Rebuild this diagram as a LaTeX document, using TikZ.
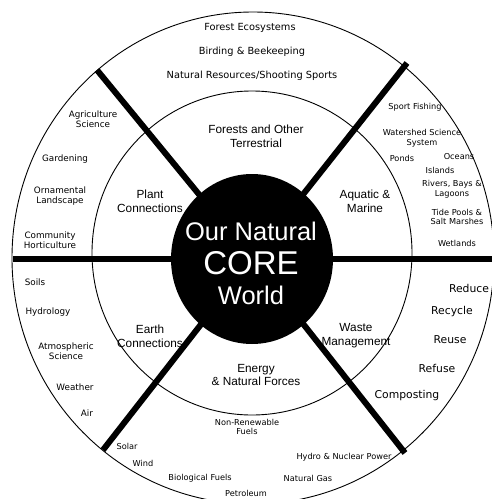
\documentclass[tikz,border=0pt]{standalone}
\usepackage{fontspec}
\setmainfont{Liberation Sans}
\newfontfamily\outerfont{DejaVu Sans}
\begin{document}
\begin{tikzpicture}[x=1pt,y=-1pt,
  ringline/.style={line width=0.9pt},
  divider/.style={line width=6pt},
  outertxt/.style={font=\outerfont\fontsize{8.8}{10.2}\selectfont, align=center, inner sep=0pt},
  sidetxt/.style={font=\outerfont\fontsize{8.2}{9.6}\selectfont, align=center, inner sep=0pt},
  toptxt/.style={font=\outerfont\fontsize{9.8}{11}\selectfont, align=center, inner sep=0pt},
  wastetxt/.style={font=\outerfont\fontsize{10.8}{12}\selectfont, align=center, inner sep=0pt},
  innertxt/.style={font=\fontsize{11.8}{13.8}\selectfont, align=center, inner sep=0pt},
  coretxt/.style={text=white, align=center, inner sep=0pt}]
\useasboundingbox (0,0) rectangle (492,499);
% geometry
\coordinate (c) at (252,259);
\coordinate (hl) at (13,259);
\coordinate (hr) at (495,259);
\coordinate (tl) at (97,70);
\coordinate (tr) at (407,63);
\coordinate (bl) at (103,450);
\coordinate (br) at (405,453);
% rings
\draw[ringline] (253,258) ellipse [x radius=241, y radius=246];
\draw[ringline] (252,253) ellipse [x radius=160, y radius=162];
% dividers
\draw[divider] (hl) -- (hr);
\draw[divider] (c) -- (tl);
\draw[divider] (c) -- (tr);
\draw[divider] (c) -- (bl);
\draw[divider] (c) -- (br);
% core
\fill (c) ellipse [x radius=81, y radius=85];
\node[coretxt, font=\fontsize{25.5}{27}\selectfont] (core1) at (251,231) {Our Natural};
\node[coretxt, font=\fontsize{33}{36}\selectfont] (core2) at (251,263) {CORE};
\node[coretxt, font=\fontsize{25.5}{27}\selectfont] (core3) at (251,295) {World};
% inner ring labels
\node[innertxt] (forests) at (256,136) {Forests and Other\\Terrestrial};
\node[innertxt] (plant) at (150,201) {Plant\\Connections};
\node[innertxt] (aquatic) at (365,201) {Aquatic \&\\Marine};
\node[innertxt] (earth) at (150,336) {Earth\\Connections};
\node[innertxt] (waste) at (356,336) {Waste\\Management};
\node[innertxt] (energy) at (256,375) {Energy\\\& Natural Forces};
% top outer
\node[toptxt] (o1) at (250,28) {Forest Ecosystems};
\node[toptxt] (o2) at (252,52) {Birding \& Beekeeping};
\node[toptxt] (o3) at (252,76) {Natural Resources/Shooting Sports};
% upper-left outer
\node[outertxt] (p1) at (93,119) {Agriculture\\Science};
\node[outertxt] (p2) at (65,159) {Gardening};
\node[outertxt] (p3) at (60,196) {Ornamental\\Landscape};
\node[outertxt] (p4) at (50,240) {Community\\Horticulture};
% upper-right outer
\node[sidetxt] (a1) at (415,107) {Sport Fishing};
\node[sidetxt] (a2) at (422,138) {Watershed Science\\System};
\node[sidetxt] (a3) at (402,158) {Ponds};
\node[sidetxt] (a4) at (459,157) {Oceans};
\node[sidetxt] (a5) at (440,170) {Islands};
\node[sidetxt] (a6) at (452,189) {Rivers, Bays \&\\Lagoons};
\node[sidetxt] (a7) at (457,217) {Tide Pools \&\\Salt Marshes};
\node[sidetxt] (a8) at (457,243) {Wetlands};
% lower-right outer
\node[wastetxt] (w1) at (469,288) {Reduce};
\node[wastetxt] (w2) at (452,312) {Recycle};
\node[wastetxt] (w3) at (450,340) {Reuse};
\node[wastetxt] (w4) at (437,368) {Refuse};
\node[wastetxt] (w5) at (407,396) {Composting};
% lower-left outer
\node[outertxt] (e1) at (35,282) {Soils};
\node[outertxt] (e2) at (48,312) {Hydrology};
\node[outertxt] (e3) at (66,351) {Atmospheric\\Science};
\node[outertxt] (e4) at (75,387) {Weather};
\node[outertxt] (e5) at (87,413) {Air};
% bottom outer
\node[sidetxt] (n1) at (247,427) {Non-Renewable\\Fuels};
\node[sidetxt] (n2) at (127,446) {Solar};
\node[sidetxt] (n3) at (143,463) {Wind};
\node[sidetxt] (n4) at (344,457) {Hydro \& Nuclear Power};
\node[sidetxt] (n5) at (200,478) {Biological Fuels};
\node[sidetxt] (n6) at (308,478) {Natural Gas};
\node[sidetxt] (n7) at (246,493) {Petroleum};
\end{tikzpicture}
\end{document}
